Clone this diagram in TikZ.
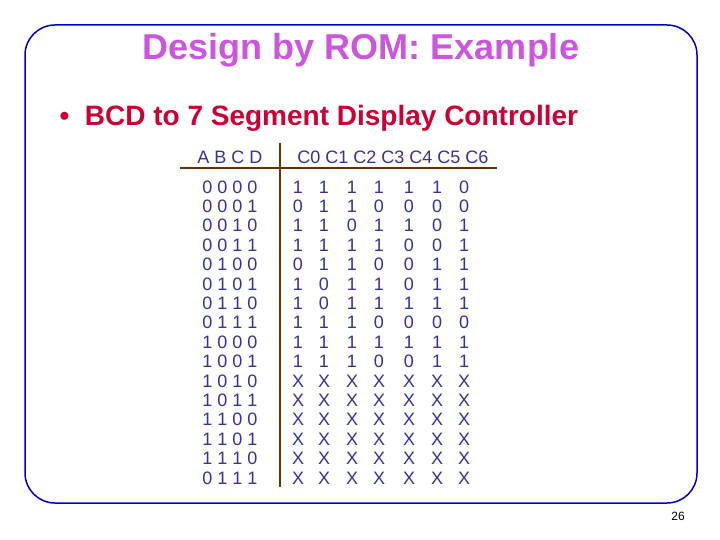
\documentclass[tikz,border=0pt]{standalone}
\usepackage{fontspec}
\setmainfont{Liberation Sans}
\definecolor{titlecol}{HTML}{CC55DD}
\definecolor{bulletcol}{HTML}{CC0033}
\definecolor{tabcol}{HTML}{333399}
\definecolor{rulecol}{HTML}{663300}
\definecolor{framecol}{HTML}{0000CC}
\tikzset{cell/.style={text=tabcol,font=\fontsize{18}{18}\selectfont,inner sep=0pt}}
\begin{document}
\begin{tikzpicture}[x=1pt,y=-1pt]
\useasboundingbox (0,0) rectangle (720,540);
\draw[framecol,line width=1.5pt,rounded corners=30pt] (25,25) rectangle (697,503);

\node[text=titlecol,font=\fontsize{36}{36}\selectfont\bfseries] (title) at (361,50) {Design by ROM: Example};
\node[text=bulletcol,font=\fontsize{28}{28}\selectfont\bfseries,anchor=west] (bullet) at (56,118) {•\ \ BCD to 7 Segment Display Controller};

\node[cell] (hin) at (230,157) {A B C D};
\node[cell] (hout) at (393,157) {C0 C1 C2 C3 C4 C5 C6};
\draw[rulecol,line width=2pt] (280,143) -- (280,487);
\draw[rulecol,line width=2pt] (180,168) -- (497,168);

\foreach \inp [count=\r] in {0 0 0 0,0 0 0 1,0 0 1 0,0 0 1 1,0 1 0 0,0 1 0 1,0 1 1 0,0 1 1 1,
  1 0 0 0,1 0 0 1,1 0 1 0,1 0 1 1,1 1 0 0,1 1 0 1,1 1 1 0,0 1 1 1}
  \node[cell] (in\r) at (230,{187+(\r-1)*19.4}) {\inp};

\foreach \outs [count=\r] in {{1,1,1,1,1,1,0},{0,1,1,0,0,0,0},{1,1,0,1,1,0,1},{1,1,1,1,0,0,1},
  {0,1,1,0,0,1,1},{1,0,1,1,0,1,1},{1,0,1,1,1,1,1},{1,1,1,0,0,0,0},
  {1,1,1,1,1,1,1},{1,1,1,0,0,1,1},{X,X,X,X,X,X,X},{X,X,X,X,X,X,X},
  {X,X,X,X,X,X,X},{X,X,X,X,X,X,X},{X,X,X,X,X,X,X},{X,X,X,X,X,X,X}}
  \foreach \v [count=\c] in \outs {
    \pgfmathsetmacro{\cx}{{298,324,352,379,409,437,464}[\c-1]}
    \node[cell] (o\r c\c) at (\cx,{187+(\r-1)*19.4}) {\v};
  }

\node[font=\fontsize{12}{12}\selectfont] (page) at (678,516) {26};
\end{tikzpicture}
\end{document}
